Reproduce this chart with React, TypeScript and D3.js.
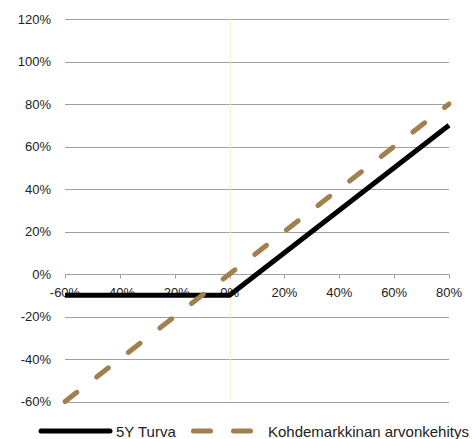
import React from 'react'
import * as d3 from 'd3'

// x: target market change, y: product return
const xValues = [-60, -40, -20, 0, 20, 40, 60, 80]
const turva = [-10, -10, -10, -10, 10, 30, 50, 70]
const market = [-60, -40, -20, 0, 20, 40, 60, 80]
const yTicks = [-60, -40, -20, 0, 20, 40, 60, 80, 100, 120]
const xTicks = [-60, -40, -20, 0, 20, 40, 60, 80]
const seriesNames = ['5Y Turva', 'Kohdemarkkinan arvonkehitys']

const W = 472
const H = 439
const FONT = '"Liberation Sans", Arial, sans-serif'
const BROWN = '#a0804f'

export default function App() {
  const x = d3.scaleLinear().domain([-60, 80]).range([65, 449])
  const y = d3.scaleLinear().domain([-60, 120]).range([401.5, 19])

  const line = d3.line<number>()
    .x((_, i) => x(xValues[i]))
    .y(d => y(d))

  const fmt = (v: number) => `${v}%`

  return (
    <div style={{ position: 'fixed', left: 0, top: 0, width: W, height: H, background: '#fff' }}>
      <svg width={W} height={H} style={{ display: 'block' }}>
        {/* grid */}
        {yTicks.map(t => (
          <line key={'g' + t} x1={x(-60)} x2={x(80)} y1={Math.round(y(t)) + 0.5} y2={Math.round(y(t)) + 0.5}
            stroke="#a0a0a0" strokeWidth={1} />
        ))}
        {/* zero vertical */}
        <line x1={Math.round(x(0)) + 0.5} x2={Math.round(x(0)) + 0.5} y1={y(120)} y2={y(-60)}
          stroke="#fbefd6" strokeWidth={1} />
        {/* x ticks on zero line */}
        {xTicks.map(t => (
          <line key={'xt' + t} x1={Math.round(x(t)) + 0.5} x2={Math.round(x(t)) + 0.5}
            y1={Math.round(y(0)) + 0.5} y2={Math.round(y(0)) + 4.5} stroke="#a0a0a0" strokeWidth={1} />
        ))}
        {/* y labels */}
        {yTicks.map(t => (
          <text key={'yl' + t} x={51} y={y(t)} dy="0.36em" textAnchor="end"
            fontFamily={FONT} fontSize={13} fill="#222">{fmt(t)}</text>
        ))}
        {/* x labels */}
        {xTicks.map(t => (
          <text key={'xl' + t} x={x(t)} y={297} textAnchor="middle"
            fontFamily={FONT} fontSize={13} fill="#222">{fmt(t)}</text>
        ))}
        {/* series */}
        <path d={line(turva) || ''} fill="none" stroke="#000" strokeWidth={5} strokeLinejoin="round" />
        <path d={line(market) || ''} fill="none" stroke={BROWN} strokeWidth={5}
          strokeDasharray="15 25" strokeLinecap="round" />
        {/* legend */}
        <line x1={41} x2={110} y1={431} y2={431} stroke="#000" strokeWidth={5} strokeLinecap="round" />
        <text x={116} y={436.5} fontFamily={FONT} fontSize={15} fill="#222">{seriesNames[0]}</text>
        <line x1={193.5} x2={254} y1={431} y2={431} stroke={BROWN} strokeWidth={5}
          strokeDasharray="17 23" strokeLinecap="round" />
        <text x={268} y={436.5} fontFamily={FONT} fontSize={15} fill="#222">{seriesNames[1]}</text>
      </svg>
    </div>
  )
}
